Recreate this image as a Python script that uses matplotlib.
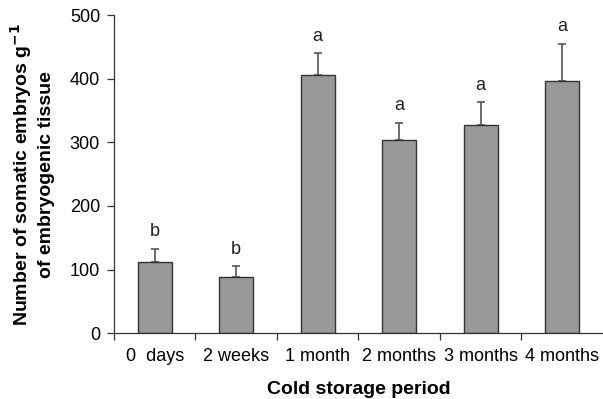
import matplotlib.pyplot as plt
import numpy as np

plt.rcParams['font.family'] = ['Liberation Sans', 'DejaVu Sans']

periods = ['0  days', '2 weeks', '1 month', '2 months', '3 months', '4 months']
embryos = [112, 88, 406, 303, 328, 397]
errors = [21, 17, 34, 28, 35, 58]
letters = ['b', 'b', 'a', 'a', 'a', 'a']

fig = plt.figure(figsize=(6.03, 3.99), dpi=100)
ax = fig.add_axes([0.189, 0.165, 0.811, 0.797])

x = np.arange(len(periods))
ax.bar(x, embryos, width=0.42, color='#999999', edgecolor='#333333', linewidth=1.0, zorder=2)
ax.errorbar(x, embryos, yerr=[np.zeros(len(errors)), errors], fmt='none',
            ecolor='#555555', elinewidth=1.2, capsize=3, capthick=1.2, zorder=1)

# significance letters above the error bars
for xi, v, e, lab in zip(x, embryos, errors, letters):
    ax.annotate(lab, (xi, v + e), xytext=(0, 6), textcoords='offset points',
                ha='center', va='bottom', fontsize=13, color='#222222')

ax.set_xlim(-0.5, len(periods) - 0.5)
ax.set_ylim(0, 500)
ax.set_yticks([0, 100, 200, 300, 400, 500])

# x ticks sit between categories, labels at the centres
ax.set_xticks(np.arange(-0.5, len(periods) - 0.5, 1))
ax.set_xticklabels([])
ax.set_xticks(x, minor=True)
ax.set_xticklabels(periods, minor=True)
ax.tick_params(axis='x', which='minor', length=0, pad=11, labelsize=13)
ax.tick_params(axis='x', which='major', length=5, width=0.9, color='#333333')
ax.tick_params(axis='y', length=5, width=0.9, color='#333333', labelsize=13, pad=5)

for side in ['top', 'right']:
    ax.spines[side].set_visible(False)
for side in ['left', 'bottom']:
    ax.spines[side].set_color('#333333')
    ax.spines[side].set_linewidth(0.9)

ax.set_ylabel('Number of somatic embryos g$^{\\mathbf{-1}}$\nof embryogenic tissue',
              fontsize=14, fontweight='bold', labelpad=11, linespacing=1.25)
ax.set_xlabel('Cold storage period', fontsize=14, fontweight='bold', labelpad=11)

fig.savefig('out.png', dpi=100)
